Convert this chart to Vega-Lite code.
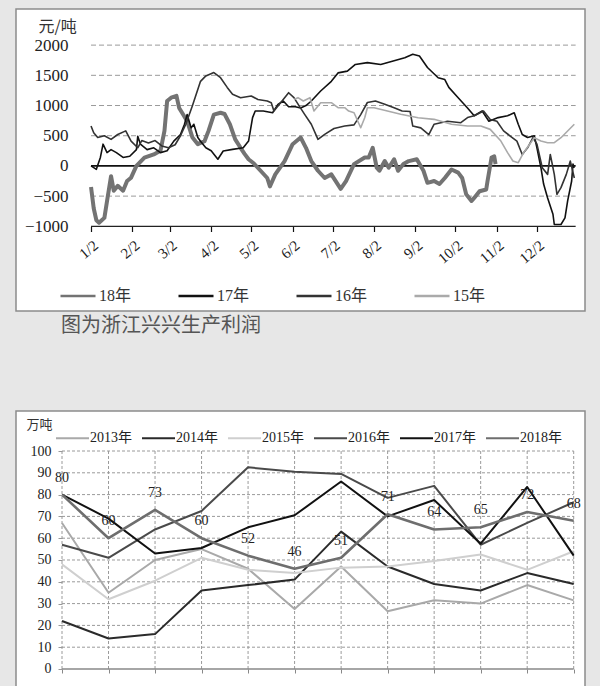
{
  "$schema": "https://vega.github.io/schema/vega-lite/v6.json",
  "background": "#e7e7e7",
  "padding": {"left": 15, "top": 8, "right": 16, "bottom": 0},
  "config": {
    "view": {"stroke": "#8c8c8c", "strokeWidth": 1.5, "fill": "white"},
    "font": "Liberation Serif, Noto Sans CJK SC"
  },
  "spacing": 73,
  "resolve": {"scale": {"color": "independent"}, "legend": {"color": "independent"}},
  "datasets": {
    "top": [
      {"s":"18年","d":2,"v":-350},{"s":"18年","d":4,"v":-700},{"s":"18年","d":6,"v":-900},{"s":"18年","d":8,"v":-940},{"s":"18年","d":10,"v":-900},{"s":"18年","d":12,"v":-860},{"s":"18年","d":14,"v":-580},{"s":"18年","d":17,"v":-170},{"s":"18年","d":19,"v":-410},{"s":"18年","d":22,"v":-330},{"s":"18年","d":26,"v":-410},{"s":"18年","d":29,"v":-250},{"s":"18年","d":32,"v":-195},{"s":"18年","d":36,"v":0},{"s":"18年","d":42,"v":136},{"s":"18年","d":49,"v":190},{"s":"18年","d":54,"v":250},{"s":"18年","d":57,"v":580},{"s":"18年","d":59,"v":1075},{"s":"18年","d":62,"v":1130},{"s":"18年","d":66,"v":1160},{"s":"18年","d":68,"v":960},{"s":"18年","d":71,"v":850},{"s":"18年","d":74,"v":740},{"s":"18年","d":78,"v":470},{"s":"18年","d":82,"v":360},{"s":"18年","d":87,"v":410},{"s":"18年","d":90,"v":580},{"s":"18年","d":94,"v":850},{"s":"18年","d":99,"v":880},{"s":"18年","d":102,"v":860},{"s":"18年","d":106,"v":690},{"s":"18年","d":110,"v":440},{"s":"18年","d":114,"v":300},{"s":"18年","d":117,"v":200},{"s":"18年","d":120,"v":110},{"s":"18年","d":124,"v":40},{"s":"18年","d":129,"v":-80},{"s":"18年","d":134,"v":-200},{"s":"18年","d":136,"v":-340},{"s":"18年","d":140,"v":-140},{"s":"18年","d":147,"v":80},{"s":"18年","d":153,"v":360},{"s":"18年","d":159,"v":470},{"s":"18年","d":163,"v":300},{"s":"18年","d":167,"v":80},{"s":"18年","d":172,"v":-80},{"s":"18年","d":177,"v":-200},{"s":"18年","d":182,"v":-140},{"s":"18年","d":189,"v":-380},{"s":"18年","d":193,"v":-250},{"s":"18年","d":199,"v":30},{"s":"18年","d":207,"v":140},{"s":"18年","d":210,"v":140},{"s":"18年","d":213,"v":300},{"s":"18年","d":216,"v":-30},{"s":"18年","d":218,"v":-80},{"s":"18年","d":222,"v":80},{"s":"18年","d":225,"v":-30},{"s":"18年","d":229,"v":110},{"s":"18年","d":232,"v":-80},{"s":"18年","d":236,"v":30},{"s":"18年","d":240,"v":80},{"s":"18年","d":246,"v":110},{"s":"18年","d":251,"v":-80},{"s":"18年","d":254,"v":-280},{"s":"18年","d":259,"v":-250},{"s":"18年","d":263,"v":-300},{"s":"18年","d":267,"v":-200},{"s":"18年","d":272,"v":-60},{"s":"18年","d":277,"v":-110},{"s":"18年","d":280,"v":-200},{"s":"18年","d":283,"v":-470},{"s":"18年","d":287,"v":-580},{"s":"18年","d":289,"v":-530},{"s":"18年","d":293,"v":-420},{"s":"18年","d":298,"v":-390},{"s":"18年","d":299,"v":-250},{"s":"18年","d":302,"v":140},{"s":"18年","d":304,"v":160},{"s":"18年","d":305,"v":30},
      {"s":"17年","d":2,"v":0},{"s":"17年","d":6,"v":-56},{"s":"17年","d":9,"v":140},{"s":"17年","d":11,"v":360},{"s":"17年","d":14,"v":220},{"s":"17年","d":17,"v":270},{"s":"17年","d":21,"v":220},{"s":"17年","d":26,"v":140},{"s":"17年","d":31,"v":160},{"s":"17年","d":36,"v":270},{"s":"17年","d":37,"v":490},{"s":"17年","d":39,"v":360},{"s":"17年","d":44,"v":270},{"s":"17年","d":49,"v":300},{"s":"17年","d":54,"v":220},{"s":"17年","d":59,"v":250},{"s":"17年","d":64,"v":410},{"s":"17年","d":69,"v":520},{"s":"17年","d":72,"v":690},{"s":"17年","d":74,"v":850},{"s":"17年","d":77,"v":630},{"s":"17年","d":79,"v":690},{"s":"17年","d":82,"v":470},{"s":"17年","d":84,"v":410},{"s":"17年","d":88,"v":300},{"s":"17年","d":92,"v":250},{"s":"17年","d":97,"v":110},{"s":"17年","d":101,"v":247},{"s":"17年","d":108,"v":274},{"s":"17年","d":116,"v":300},{"s":"17年","d":120,"v":412},{"s":"17年","d":123,"v":800},{"s":"17年","d":125,"v":909},{"s":"17年","d":131,"v":909},{"s":"17年","d":138,"v":881},{"s":"17年","d":142,"v":1020},{"s":"17年","d":146,"v":1075},{"s":"17年","d":150,"v":980},{"s":"17年","d":155,"v":980},{"s":"17年","d":159,"v":960},{"s":"17年","d":163,"v":1000},{"s":"17年","d":167,"v":1075},{"s":"17年","d":174,"v":1240},{"s":"17年","d":182,"v":1400},{"s":"17年","d":187,"v":1540},{"s":"17年","d":194,"v":1570},{"s":"17年","d":200,"v":1680},{"s":"17年","d":209,"v":1710},{"s":"17年","d":219,"v":1680},{"s":"17年","d":229,"v":1740},{"s":"17年","d":237,"v":1790},{"s":"17年","d":243,"v":1850},{"s":"17年","d":248,"v":1820},{"s":"17年","d":254,"v":1630},{"s":"17年","d":262,"v":1460},{"s":"17年","d":267,"v":1430},{"s":"17年","d":270,"v":1300},{"s":"17年","d":277,"v":1130},{"s":"17年","d":284,"v":960},{"s":"17年","d":289,"v":830},{"s":"17年","d":295,"v":910},{"s":"17年","d":300,"v":740},{"s":"17年","d":307,"v":800},{"s":"17年","d":314,"v":830},{"s":"17年","d":319,"v":880},{"s":"17年","d":322,"v":690},{"s":"17年","d":325,"v":520},{"s":"17年","d":329,"v":470},{"s":"17年","d":334,"v":500},{"s":"17年","d":336,"v":300},{"s":"17年","d":339,"v":-30},{"s":"17年","d":341,"v":-300},{"s":"17年","d":344,"v":-530},{"s":"17年","d":348,"v":-800},{"s":"17年","d":349,"v":-970},{"s":"17年","d":354,"v":-970},{"s":"17年","d":357,"v":-860},{"s":"17年","d":359,"v":-580},{"s":"17年","d":362,"v":-250},{"s":"17年","d":363,"v":30},{"s":"17年","d":364,"v":-30},
      {"s":"16年","d":2,"v":660},{"s":"16年","d":4,"v":550},{"s":"16年","d":7,"v":470},{"s":"16年","d":12,"v":500},{"s":"16年","d":17,"v":440},{"s":"16年","d":22,"v":520},{"s":"16年","d":28,"v":580},{"s":"16年","d":32,"v":410},{"s":"16年","d":37,"v":300},{"s":"16年","d":40,"v":420},{"s":"16年","d":45,"v":380},{"s":"16年","d":50,"v":420},{"s":"16年","d":55,"v":330},{"s":"16年","d":60,"v":300},{"s":"16年","d":65,"v":350},{"s":"16年","d":69,"v":500},{"s":"16年","d":73,"v":690},{"s":"16年","d":78,"v":1000},{"s":"16年","d":84,"v":1400},{"s":"16年","d":88,"v":1490},{"s":"16年","d":94,"v":1545},{"s":"16年","d":99,"v":1460},{"s":"16年","d":104,"v":1300},{"s":"16年","d":108,"v":1185},{"s":"16年","d":114,"v":1130},{"s":"16年","d":122,"v":1157},{"s":"16年","d":127,"v":1100},{"s":"16年","d":134,"v":1075},{"s":"16年","d":137,"v":1047},{"s":"16年","d":139,"v":910},{"s":"16年","d":144,"v":1047},{"s":"16年","d":150,"v":1212},{"s":"16年","d":154,"v":1130},{"s":"16年","d":158,"v":990},{"s":"16年","d":162,"v":854},{"s":"16年","d":167,"v":690},{"s":"16年","d":172,"v":440},{"s":"16年","d":177,"v":523},{"s":"16年","d":184,"v":620},{"s":"16年","d":192,"v":660},{"s":"16年","d":199,"v":680},{"s":"16年","d":204,"v":850},{"s":"16年","d":209,"v":1050},{"s":"16年","d":215,"v":1075},{"s":"16年","d":222,"v":1020},{"s":"16年","d":229,"v":964},{"s":"16年","d":235,"v":910},{"s":"16年","d":241,"v":900},{"s":"16年","d":243,"v":660},{"s":"16年","d":249,"v":630},{"s":"16年","d":255,"v":520},{"s":"16年","d":259,"v":690},{"s":"16年","d":269,"v":740},{"s":"16年","d":279,"v":715},{"s":"16年","d":284,"v":800},{"s":"16年","d":289,"v":830},{"s":"16年","d":296,"v":910},{"s":"16年","d":301,"v":770},{"s":"16年","d":306,"v":740},{"s":"16年","d":311,"v":580},{"s":"16年","d":316,"v":495},{"s":"16年","d":321,"v":410},{"s":"16年","d":325,"v":190},{"s":"16年","d":329,"v":300},{"s":"16年","d":333,"v":470},{"s":"16年","d":336,"v":360},{"s":"16年","d":340,"v":-30},{"s":"16年","d":344,"v":-140},{"s":"16年","d":346,"v":190},{"s":"16年","d":349,"v":-140},{"s":"16年","d":351,"v":-470},{"s":"16年","d":354,"v":-360},{"s":"16年","d":358,"v":-140},{"s":"16年","d":361,"v":80},{"s":"16年","d":364,"v":-200},
      {"s":"15年","d":154,"v":1100},{"s":"15年","d":157,"v":1130},{"s":"15年","d":161,"v":1075},{"s":"15年","d":166,"v":1130},{"s":"15年","d":169,"v":910},{"s":"15年","d":174,"v":1047},{"s":"15年","d":182,"v":1047},{"s":"15年","d":187,"v":964},{"s":"15年","d":192,"v":964},{"s":"15年","d":195,"v":909},{"s":"15年","d":199,"v":881},{"s":"15年","d":204,"v":632},{"s":"15年","d":207,"v":798},{"s":"15年","d":209,"v":964},{"s":"15年","d":214,"v":964},{"s":"15年","d":224,"v":909},{"s":"15年","d":234,"v":854},{"s":"15年","d":247,"v":798},{"s":"15年","d":259,"v":771},{"s":"15年","d":272,"v":689},{"s":"15年","d":284,"v":660},{"s":"15年","d":294,"v":660},{"s":"15年","d":301,"v":605},{"s":"15年","d":309,"v":412},{"s":"15年","d":314,"v":220},{"s":"15年","d":318,"v":81},{"s":"15年","d":322,"v":53},{"s":"15年","d":326,"v":219},{"s":"15年","d":334,"v":467},{"s":"15年","d":339,"v":412},{"s":"15年","d":344,"v":384},{"s":"15年","d":349,"v":384},{"s":"15年","d":354,"v":467},{"s":"15年","d":359,"v":578},{"s":"15年","d":364,"v":689}
    ],
    "bottom": [
      {"s":"2013年","m":0,"v":67},{"s":"2013年","m":1,"v":35},{"s":"2013年","m":2,"v":50},{"s":"2013年","m":3,"v":55},{"s":"2013年","m":4,"v":46},{"s":"2013年","m":5,"v":27.5},{"s":"2013年","m":6,"v":47},{"s":"2013年","m":7,"v":26.5},{"s":"2013年","m":8,"v":31.5},{"s":"2013年","m":9,"v":30},{"s":"2013年","m":10,"v":38.5},{"s":"2013年","m":11,"v":31.5},
      {"s":"2014年","m":0,"v":22},{"s":"2014年","m":1,"v":14},{"s":"2014年","m":2,"v":16},{"s":"2014年","m":3,"v":36},{"s":"2014年","m":4,"v":38.5},{"s":"2014年","m":5,"v":41},{"s":"2014年","m":6,"v":63},{"s":"2014年","m":7,"v":47},{"s":"2014年","m":8,"v":39},{"s":"2014年","m":9,"v":36},{"s":"2014年","m":10,"v":44},{"s":"2014年","m":11,"v":39},
      {"s":"2015年","m":0,"v":48},{"s":"2015年","m":1,"v":32},{"s":"2015年","m":2,"v":40.5},{"s":"2015年","m":3,"v":51},{"s":"2015年","m":4,"v":45.5},{"s":"2015年","m":5,"v":44},{"s":"2015年","m":6,"v":46.5},{"s":"2015年","m":7,"v":47},{"s":"2015年","m":8,"v":49.5},{"s":"2015年","m":9,"v":52.5},{"s":"2015年","m":10,"v":45.5},{"s":"2015年","m":11,"v":54},
      {"s":"2016年","m":0,"v":57},{"s":"2016年","m":1,"v":51},{"s":"2016年","m":2,"v":64},{"s":"2016年","m":3,"v":72.5},{"s":"2016年","m":4,"v":92.5},{"s":"2016年","m":5,"v":90.5},{"s":"2016年","m":6,"v":89.5},{"s":"2016年","m":7,"v":78.5},{"s":"2016年","m":8,"v":84},{"s":"2016年","m":9,"v":57},{"s":"2016年","m":10,"v":67},{"s":"2016年","m":11,"v":76.5},
      {"s":"2017年","m":0,"v":80},{"s":"2017年","m":1,"v":69},{"s":"2017年","m":2,"v":53},{"s":"2017年","m":3,"v":55.5},{"s":"2017年","m":4,"v":65},{"s":"2017年","m":5,"v":70.5},{"s":"2017年","m":6,"v":86},{"s":"2017年","m":7,"v":70},{"s":"2017年","m":8,"v":77.5},{"s":"2017年","m":9,"v":57.5},{"s":"2017年","m":10,"v":83.5},{"s":"2017年","m":11,"v":52},
      {"s":"2018年","m":0,"v":80},{"s":"2018年","m":1,"v":60},{"s":"2018年","m":2,"v":73},{"s":"2018年","m":3,"v":60},{"s":"2018年","m":4,"v":52},{"s":"2018年","m":5,"v":46},{"s":"2018年","m":6,"v":51},{"s":"2018年","m":7,"v":71},{"s":"2018年","m":8,"v":64},{"s":"2018年","m":9,"v":65},{"s":"2018年","m":10,"v":72},{"s":"2018年","m":11,"v":68}
    ]
  },
  "vconcat": [
    {
      "width": 569,
      "height": 302,
      "title": {"text": "图为浙江兴兴生产利润", "orient": "bottom", "anchor": "start", "dx": 45, "offset": 5, "font": "Noto Sans CJK SC", "fontSize": 20, "fontWeight": "normal", "color": "#555555"},
      "layer": [
        {
          "data": {"values": [{"v": 2000}, {"v": 1500}, {"v": 1000}, {"v": 500}, {"v": -500}]},
          "mark": {"type": "rule", "stroke": "#9a9a9a", "strokeDash": [5, 3], "strokeWidth": 1},
          "encoding": {
            "y": {"field": "v", "type": "quantitative"},
            "x": {"datum": 2, "type": "quantitative"},
            "x2": {"datum": 365}
          }
        },
        {
          "data": {"values": [{"v": 0}]},
          "mark": {"type": "rule", "stroke": "#111111", "strokeWidth": 1.6},
          "encoding": {
            "y": {"field": "v", "type": "quantitative"},
            "x": {"datum": 2, "type": "quantitative"},
            "x2": {"datum": 365}
          }
        },
        {
          "data": {"values": [{"v": -1000}]},
          "mark": {"type": "rule", "stroke": "#222222", "strokeWidth": 1.3},
          "encoding": {
            "y": {"field": "v", "type": "quantitative"},
            "x": {"datum": 2, "type": "quantitative"},
            "x2": {"datum": 365}
          }
        },
        {
          "data": {"name": "top"},
          "mark": {"type": "line", "strokeJoin": "round"},
          "encoding": {
            "x": {
              "field": "d", "type": "quantitative",
              "scale": {"domain": [-54.2, 372], "nice": false, "zero": false},
              "axis": {
                "zindex": 1,
                "values": [2, 33, 61, 92, 122, 153, 183, 214, 245, 275, 306, 336],
                "labelExpr": "(indexof([2,33,61,92,122,153,183,214,245,275,306,336], datum.value) + 1) + '/2'",
                "offset": -84.5, "domain": false, "grid": false,
                "tickSize": 5, "tickColor": "#111111", "tickWidth": 1.2,
                "labelAngle": -40, "labelFontSize": 15, "labelPadding": 6, "labelColor": "#222222",
                "labelOverlap": false, "labelFlush": false, "title": null
              }
            },
            "y": {
              "field": "v", "type": "quantitative",
              "scale": {"domain": [-2402, 2598], "nice": false, "zero": false},
              "axis": {
                "zindex": 1,
                "values": [-1000, -500, 0, 500, 1000, 1500, 2000],
                "format": "d", "labelOverlap": false,
                "ticks": false, "domain": false, "grid": false,
                "offset": -56, "labelPadding": 4, "labelFontSize": 17, "labelColor": "#222222",
                "title": "元/吨", "titleAngle": 0, "titleX": -34, "titleY": 17,
                "titleAlign": "left", "titleBaseline": "middle", "titleFontSize": 16,
                "titleFontWeight": "normal", "titleColor": "#333333", "titleFont": "Noto Sans CJK SC"
              }
            },
            "color": {
              "field": "s", "type": "nominal",
              "scale": {"domain": ["18年", "17年", "16年", "15年"], "range": ["#737373", "#111111", "#333333", "#aaaaaa"]},
              "legend": {
                "zindex": 1,
                "orient": "none", "legendX": 43, "legendY": 268, "direction": "horizontal",
                "title": null, "symbolType": "stroke", "symbolSize": 1225, "symbolStrokeWidth": 2.4,
                "labelFontSize": 16, "labelColor": "#333333", "labelOffset": 2, "columnPadding": 41, "padding": 0
              }
            },
            "strokeWidth": {"condition": {"test": "datum.s === '18年'", "value": 4}, "value": 1.6}
          }
        }
      ]
    },
    {
      "width": 569,
      "height": 276,
      "layer": [
        {
          "data": {"values": [{"v": 10}, {"v": 20}, {"v": 30}, {"v": 40}, {"v": 50}, {"v": 60}, {"v": 70}, {"v": 80}, {"v": 90}, {"v": 100}]},
          "mark": {"type": "rule", "stroke": "#9a9a9a", "strokeDash": [3, 2], "strokeWidth": 1},
          "encoding": {
            "y": {"field": "v", "type": "quantitative",
              "axis": {"zindex": 1, "values": [0, 10, 20, 30, 40, 50, 60, 70, 80, 90, 100], "format": "d", "labelOverlap": false, "offset": -46, "domain": false, "grid": false, "tickSize": 4, "tickColor": "#999999", "labelPadding": 7, "labelFontSize": 14, "labelColor": "#222222", "title": "万吨", "titleAngle": 0, "titleX": -36, "titleY": 13, "titleAlign": "left", "titleBaseline": "middle", "titleFontSize": 13, "titleFont": "Noto Sans CJK SC", "titleFontWeight": "normal", "titleColor": "#333333"}},
            "x": {"datum": 0, "type": "quantitative",
              "axis": {"zindex": 1, "values": [0, 1, 2, 3, 4, 5, 6, 7, 8, 9, 10, 11], "labels": false, "domain": false, "grid": false, "offset": -18, "tickSize": 4, "tickColor": "#888888", "title": null}},
            "x2": {"datum": 11}
          }
        },
        {
          "data": {"values": [{"m": 0}, {"m": 1}, {"m": 2}, {"m": 3}, {"m": 4}, {"m": 5}, {"m": 6}, {"m": 7}, {"m": 8}, {"m": 9}, {"m": 10}, {"m": 11}]},
          "mark": {"type": "rule", "stroke": "#9a9a9a", "strokeDash": [3, 2], "strokeWidth": 1},
          "encoding": {
            "x": {"field": "m", "type": "quantitative",
              "axis": {"zindex": 1, "values": [0, 1, 2, 3, 4, 5, 6, 7, 8, 9, 10, 11], "labels": false, "domain": false, "grid": false, "offset": -18, "tickSize": 4, "tickColor": "#888888", "title": null}},
            "y": {"datum": 0, "type": "quantitative",
              "axis": {"zindex": 1, "values": [0, 10, 20, 30, 40, 50, 60, 70, 80, 90, 100], "format": "d", "labelOverlap": false, "offset": -46, "domain": false, "grid": false, "tickSize": 4, "tickColor": "#999999", "labelPadding": 7, "labelFontSize": 14, "labelColor": "#222222", "title": "万吨", "titleAngle": 0, "titleX": -36, "titleY": 13, "titleAlign": "left", "titleBaseline": "middle", "titleFontSize": 13, "titleFont": "Noto Sans CJK SC", "titleFontWeight": "normal", "titleColor": "#333333"}},
            "y2": {"datum": 100}
          }
        },
        {
          "data": {"values": [{"v": 0}]},
          "mark": {"type": "rule", "stroke": "#888888", "strokeWidth": 1.3},
          "encoding": {
            "y": {"field": "v", "type": "quantitative",
              "axis": {"zindex": 1, "values": [0, 10, 20, 30, 40, 50, 60, 70, 80, 90, 100], "format": "d", "labelOverlap": false, "offset": -46, "domain": false, "grid": false, "tickSize": 4, "tickColor": "#999999", "labelPadding": 7, "labelFontSize": 14, "labelColor": "#222222", "title": "万吨", "titleAngle": 0, "titleX": -36, "titleY": 13, "titleAlign": "left", "titleBaseline": "middle", "titleFontSize": 13, "titleFont": "Noto Sans CJK SC", "titleFontWeight": "normal", "titleColor": "#333333"}},
            "x": {"datum": 0, "type": "quantitative",
              "axis": {"zindex": 1, "values": [0, 1, 2, 3, 4, 5, 6, 7, 8, 9, 10, 11], "labels": false, "domain": false, "grid": false, "offset": -18, "tickSize": 4, "tickColor": "#888888", "title": null}},
            "x2": {"datum": 11}
          }
        },
        {
          "data": {"name": "bottom"},
          "mark": {"type": "line", "strokeJoin": "round"},
          "encoding": {
            "x": {"field": "m", "type": "quantitative",
              "scale": {"domain": [-0.989, 11.243], "nice": false, "zero": false},
              "axis": {"zindex": 1, "values": [0, 1, 2, 3, 4, 5, 6, 7, 8, 9, 10, 11], "labels": false, "domain": false, "grid": false, "offset": -18, "tickSize": 4, "tickColor": "#888888", "title": null}},
            "y": {"field": "v", "type": "quantitative",
              "scale": {"domain": [-8.26, 118.35], "nice": false, "zero": false},
              "axis": {"zindex": 1, "values": [0, 10, 20, 30, 40, 50, 60, 70, 80, 90, 100], "format": "d", "labelOverlap": false, "offset": -46, "domain": false, "grid": false, "tickSize": 4, "tickColor": "#999999", "labelPadding": 7, "labelFontSize": 14, "labelColor": "#222222", "title": "万吨", "titleAngle": 0, "titleX": -36, "titleY": 13, "titleAlign": "left", "titleBaseline": "middle", "titleFontSize": 13, "titleFont": "Noto Sans CJK SC", "titleFontWeight": "normal", "titleColor": "#333333"}},
            "color": {
              "field": "s", "type": "nominal",
              "scale": {"domain": ["2013年", "2014年", "2015年", "2016年", "2017年", "2018年"], "range": ["#a9a9a9", "#2a2a2a", "#cfcfcf", "#4a4a4a", "#111111", "#6e6e6e"]},
              "legend": {
                "zindex": 1,
                "orient": "none", "legendX": 39, "legendY": 9.5, "direction": "horizontal",
                "title": null, "symbolType": "stroke", "symbolSize": 1089, "symbolStrokeWidth": 2,
                "labelFontSize": 14, "labelColor": "#222222", "labelOffset": 0, "columnPadding": 6, "padding": 0
              }
            },
            "strokeWidth": {"condition": {"test": "datum.s === '2018年'", "value": 2.6}, "value": 2}
          }
        },
        {
          "data": {"name": "bottom"},
          "transform": [{"filter": "datum.s === '2018年'"}],
          "mark": {"type": "text", "dy": -17, "fontSize": 14, "color": "#222222", "align": "center", "baseline": "middle"},
          "encoding": {
            "x": {"field": "m", "type": "quantitative",
              "axis": {"zindex": 1, "values": [0, 1, 2, 3, 4, 5, 6, 7, 8, 9, 10, 11], "labels": false, "domain": false, "grid": false, "offset": -18, "tickSize": 4, "tickColor": "#888888", "title": null}},
            "y": {"field": "v", "type": "quantitative",
              "axis": {"zindex": 1, "values": [0, 10, 20, 30, 40, 50, 60, 70, 80, 90, 100], "format": "d", "labelOverlap": false, "offset": -46, "domain": false, "grid": false, "tickSize": 4, "tickColor": "#999999", "labelPadding": 7, "labelFontSize": 14, "labelColor": "#222222", "title": "万吨", "titleAngle": 0, "titleX": -36, "titleY": 13, "titleAlign": "left", "titleBaseline": "middle", "titleFontSize": 13, "titleFont": "Noto Sans CJK SC", "titleFontWeight": "normal", "titleColor": "#333333"}},
            "text": {"field": "v", "type": "quantitative", "format": "d"}
          }
        }
      ]
    }
  ]
}
